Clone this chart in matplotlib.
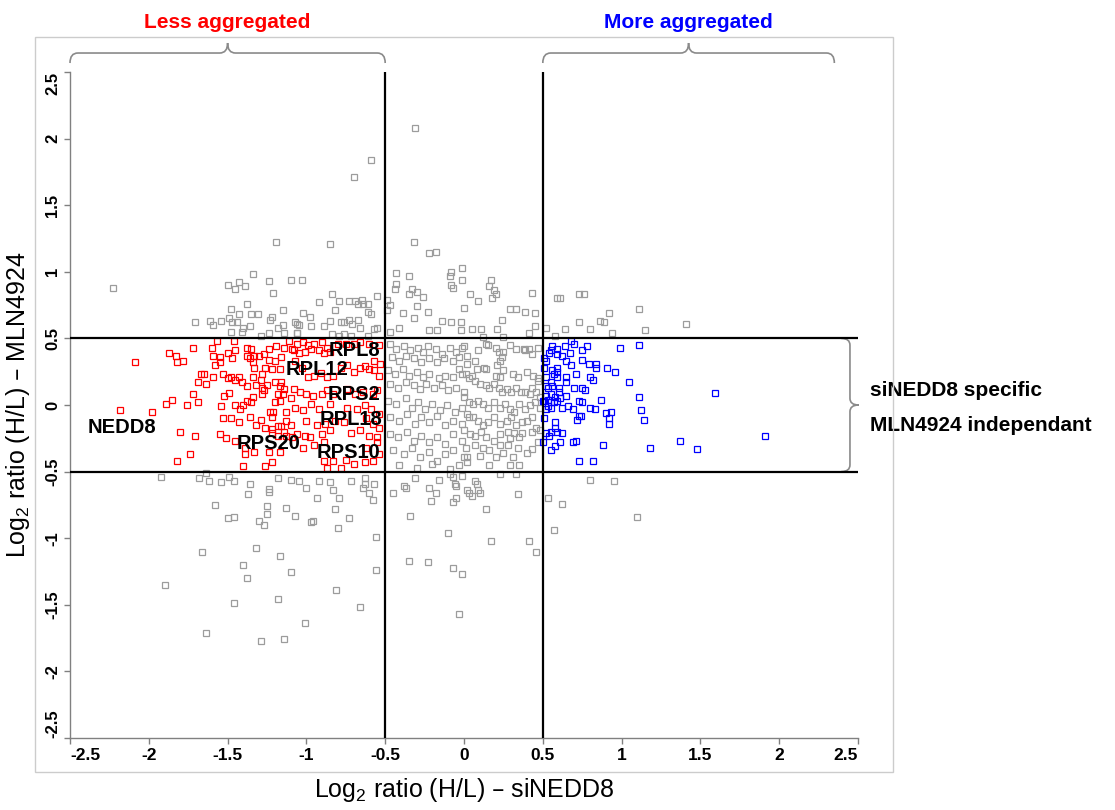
import matplotlib
matplotlib.use("Agg")
import matplotlib.pyplot as plt
import matplotlib.transforms as mtransforms
from matplotlib.path import Path
from matplotlib.patches import PathPatch, Rectangle

plt.rcParams["font.family"] = ["Liberation Sans", "DejaVu Sans"]
plt.rcParams["mathtext.default"] = "regular"

# proteins not changed (grey)
gray_pts = [
    (-0.31, 2.08), (-0.59, 1.84), (-0.70, 1.71), (-1.19, 1.22), (-0.85, 1.21), (-0.32, 1.22),
    (-0.22, 1.14), (-0.18, 1.15), (-0.08, 1.00), (-0.01, 0.94),
    (-2.23, 0.88), (-1.34, 0.98), (-1.50, 0.90), (-1.43, 0.92), (-1.45, 0.87), (-1.39, 0.89),
    (-1.24, 0.93), (-1.10, 0.94), (-1.21, 0.84), (-1.38, 0.76), (-1.48, 0.72), (-1.15, 0.71),
    (-1.43, 0.68), (-1.35, 0.68), (-1.31, 0.68), (-1.22, 0.66), (-1.23, 0.64), (-1.71, 0.62),
    (-1.61, 0.63), (-1.59, 0.60), (-1.54, 0.63), (-1.49, 0.65), (-1.47, 0.62), (-1.44, 0.62),
    (-1.40, 0.58), (-1.41, 0.55), (-1.48, 0.55), (-1.36, 0.59), (-1.29, 0.52), (-1.24, 0.54),
    (-1.18, 0.58), (-1.15, 0.60), (-1.14, 0.54), (-1.06, 0.61), (-1.06, 0.54),
    (-1.03, 0.94), (-0.84, 0.83), (-0.92, 0.77), (-0.79, 0.78), (-0.73, 0.78), (-0.69, 0.78),
    (-0.65, 0.79), (-0.64, 0.76), (-0.67, 0.76), (-0.61, 0.76), (-0.55, 0.82), (-0.82, 0.71),
    (-1.02, 0.69), (-0.98, 0.66), (-0.85, 0.63), (-0.78, 0.62), (-0.76, 0.62), (-0.73, 0.64),
    (-0.71, 0.61), (-0.67, 0.64), (-0.66, 0.58), (-0.61, 0.70), (-0.59, 0.68), (-0.55, 0.58),
    (-0.57, 0.57), (-1.07, 0.62), (-1.05, 0.60), (-0.97, 0.59), (-0.89, 0.59), (-0.84, 0.53),
    (-0.79, 0.52), (-0.76, 0.53), (-0.72, 0.52), (-0.61, 0.52), (-1.06, 0.54),
    (-0.43, 0.99), (-0.35, 0.97), (-0.43, 0.91), (-0.44, 0.87), (-0.33, 0.87), (-0.30, 0.85),
    (-0.35, 0.83), (-0.26, 0.81), (-0.30, 0.74), (-0.39, 0.69), (-0.23, 0.70), (-0.09, 0.97),
    (-0.08, 0.90), (-0.07, 0.88), (-0.01, 1.03), (-0.49, 0.79), (-0.47, 0.75), (-0.47, 0.55),
    (-0.41, 0.58), (-0.32, 0.65), (-0.22, 0.56), (-0.17, 0.56), (-0.14, 0.63), (-0.08, 0.62),
    (-0.02, 0.56), (-0.49, 0.71),
    (0.17, 0.94), (0.16, 0.89), (0.19, 0.86), (0.20, 0.83), (0.04, 0.83), (0.09, 0.78),
    (0.18, 0.80), (0.00, 0.73), (0.29, 0.72), (0.33, 0.72), (0.39, 0.70), (0.45, 0.69),
    (0.43, 0.84), (0.24, 0.64), (-0.02, 0.62), (0.05, 0.57), (0.11, 0.57), (0.21, 0.57),
    (0.41, 0.54), (0.45, 0.59), (0.12, 0.51), (0.25, 0.51),
    (0.52, 0.58), (0.59, 0.80), (0.61, 0.80), (0.73, 0.83), (0.76, 0.83), (0.64, 0.57),
    (0.73, 0.62), (0.80, 0.57), (0.86, 0.63), (0.89, 0.62), (0.92, 0.69), (0.94, 0.54),
    (0.58, 0.52), (1.11, 0.72), (1.41, 0.61), (1.15, 0.56),
    # middle box
    (0.09, 0.41), (-0.01, 0.43), (0.20, 0.43), (0.22, 0.40), (0.25, 0.40), (0.29, 0.45),
    (0.33, 0.42), (0.38, 0.42), (0.41, 0.42), (0.47, 0.43), (0.14, 0.46), (0.15, 0.45),
    (0.23, 0.33), (0.24, 0.36), (0.39, 0.41), (0.43, 0.38), (0.02, 0.37), (0.07, 0.33),
    (0.08, 0.27), (0.13, 0.28), (0.14, 0.27), (0.21, 0.30), (0.25, 0.26), (0.20, 0.22),
    (0.23, 0.21), (0.31, 0.23), (0.34, 0.21), (0.40, 0.25), (0.44, 0.22), (0.47, 0.18),
    (0.47, 0.20), (-0.03, 0.27), (0.01, 0.23), (0.05, 0.22), (0.07, 0.18), (0.10, 0.16),
    (0.14, 0.15), (0.16, 0.13), (0.19, 0.16), (0.22, 0.13), (0.24, 0.10), (0.27, 0.12),
    (0.30, 0.10), (0.33, 0.13), (0.36, 0.10), (0.39, 0.10), (0.42, 0.08), (0.43, 0.13),
    (0.46, 0.10), (0.48, 0.06), (0.00, 0.06), (0.03, 0.02), (0.06, 0.01), (0.09, 0.03),
    (0.12, 0.01), (0.15, -0.02), (0.19, 0.02), (0.23, -0.02), (0.26, 0.01), (0.29, -0.03),
    (0.32, -0.05), (0.35, 0.01), (0.39, -0.03), (0.42, 0.00), (0.45, 0.02), (0.48, -0.02),
    (0.02, -0.07), (0.06, -0.09), (0.09, -0.12), (0.12, -0.15), (0.15, -0.13), (0.19, -0.09),
    (0.23, -0.14), (0.27, -0.12), (0.30, -0.09), (0.33, -0.15), (0.37, -0.13), (0.40, -0.12),
    (0.43, -0.09), (0.46, -0.17), (0.00, -0.19), (0.04, -0.22), (0.07, -0.23), (0.11, -0.20),
    (0.14, -0.24), (0.19, -0.27), (0.23, -0.22), (0.28, -0.20), (0.32, -0.21), (0.37, -0.21),
    (0.43, -0.20), (0.48, -0.19), (0.29, -0.25), (0.35, -0.24), (0.01, -0.32), (0.07, -0.30),
    (0.12, -0.32), (0.16, -0.34), (0.23, -0.30), (0.28, -0.30), (0.34, -0.32), (0.43, -0.33),
    (0.47, -0.28), (0.02, -0.39), (0.10, -0.38), (0.20, -0.39), (0.25, -0.36), (0.31, -0.39),
    (0.40, -0.36), (0.16, -0.45), (0.29, -0.45), (0.35, -0.45), (0.02, -0.43),
    (-0.47, 0.46), (-0.43, 0.42), (-0.38, 0.44), (-0.34, 0.41), (-0.29, 0.43), (-0.26, 0.40),
    (-0.23, 0.44), (-0.18, 0.42), (-0.14, 0.38), (-0.09, 0.43), (-0.05, 0.40), (0.00, 0.44),
    (-0.46, 0.36), (-0.41, 0.33), (-0.37, 0.37), (-0.32, 0.35), (-0.27, 0.32), (-0.22, 0.35),
    (-0.17, 0.32), (-0.13, 0.35), (-0.07, 0.33), (-0.03, 0.36), (0.02, 0.31),
    (-0.48, 0.26), (-0.44, 0.23), (-0.39, 0.27), (-0.35, 0.22), (-0.30, 0.25), (-0.26, 0.21),
    (-0.22, 0.23), (-0.16, 0.20), (-0.12, 0.22), (-0.07, 0.21), (-0.01, 0.23), (0.03, 0.20),
    (-0.47, 0.16), (-0.42, 0.13), (-0.37, 0.17), (-0.32, 0.15), (-0.28, 0.12), (-0.24, 0.16),
    (-0.19, 0.13), (-0.14, 0.15), (-0.10, 0.11), (-0.05, 0.13), (0.00, 0.10),
    (-0.48, 0.03), (-0.43, 0.01), (-0.37, 0.05), (-0.33, -0.02), (-0.29, 0.02), (-0.25, -0.03),
    (-0.20, 0.01), (-0.15, -0.04), (-0.11, 0.00), (-0.06, -0.05), (-0.01, -0.02),
    (-0.47, -0.09), (-0.41, -0.12), (-0.36, -0.07), (-0.31, -0.14), (-0.27, -0.09), (-0.22, -0.13),
    (-0.17, -0.08), (-0.12, -0.15), (-0.07, -0.12), (-0.01, -0.14), (0.03, -0.09),
    (-0.47, -0.22), (-0.42, -0.24), (-0.36, -0.20), (-0.32, -0.27), (-0.27, -0.23), (-0.22, -0.28),
    (-0.17, -0.24), (-0.12, -0.29), (-0.07, -0.22), (-0.01, -0.27), (-0.45, -0.34), (-0.38, -0.37),
    (-0.33, -0.32), (-0.28, -0.39), (-0.22, -0.35), (-0.17, -0.42), (-0.12, -0.37), (-0.07, -0.34),
    (0.00, -0.39), (-0.41, -0.45), (-0.30, -0.47), (-0.20, -0.44), (-0.09, -0.48), (-0.03, -0.45),
    # below -0.5
    (-1.64, -0.51), (-1.92, -0.54), (-1.68, -0.55), (-1.62, -0.57), (-1.54, -0.58), (-1.49, -0.54),
    (-1.46, -0.57), (-1.36, -0.59), (-1.24, -0.63), (-1.18, -0.55), (-1.10, -0.56), (-1.05, -0.57),
    (-0.92, -0.57), (-0.85, -0.58), (-0.72, -0.57), (-0.63, -0.55), (-0.64, -0.62), (-0.63, -0.59),
    (-0.57, -0.59), (-0.60, -0.66), (-1.00, -0.62), (-0.83, -0.64), (-0.93, -0.70), (-0.79, -0.70),
    (-0.58, -0.71), (-0.82, -0.78), (-0.73, -0.85), (-0.80, -0.92), (-0.56, -0.99), (-0.56, -1.24),
    (-0.81, -1.39), (-0.66, -1.52), (-1.01, -1.64), (-1.37, -0.67), (-1.24, -0.65), (-1.58, -0.75),
    (-1.25, -0.76), (-1.13, -0.77), (-1.25, -0.82), (-1.07, -0.83), (-1.50, -0.85), (-1.46, -0.84),
    (-1.30, -0.87), (-1.27, -0.90), (-0.97, -0.88), (-0.96, -0.87), (-1.32, -1.07), (-1.17, -1.13),
    (-1.66, -1.10), (-1.40, -1.20), (-1.10, -1.25), (-1.38, -1.30), (-1.90, -1.35), (-1.46, -1.49),
    (-1.18, -1.46), (-1.64, -1.71), (-1.29, -1.77), (-1.14, -1.76),
    (-0.45, -0.66), (-0.38, -0.61), (-0.37, -0.62), (-0.31, -0.55), (-0.22, -0.62), (-0.18, -0.66),
    (-0.21, -0.72), (-0.16, -0.56), (-0.09, -0.52), (-0.07, -0.54), (-0.06, -0.59), (-0.05, -0.61),
    (-0.01, -0.53), (-0.05, -0.70), (-0.07, -0.73), (0.02, -0.64), (0.03, -0.66), (0.05, -0.68),
    (0.07, -0.57), (0.08, -0.59), (0.09, -0.64), (0.10, -0.66), (0.23, -0.52), (0.33, -0.52),
    (0.34, -0.67), (0.14, -0.78), (-0.34, -0.83), (-0.10, -0.96), (0.17, -1.02), (0.41, -1.02),
    (0.46, -1.10), (-0.35, -1.17), (-0.23, -1.18), (-0.07, -1.22), (-0.01, -1.27), (-0.03, -1.57),
    (0.80, -0.56), (0.95, -0.57), (0.53, -0.70), (0.62, -0.74), (1.10, -0.84), (0.57, -0.94),
]

# less aggregated after siNEDD8 (red)
red_pts = [
    (-2.09, 0.32), (-1.87, 0.39), (-1.83, 0.37), (-1.82, 0.32), (-1.78, 0.33), (-1.72, 0.43),
    (-1.60, 0.43), (-1.57, 0.48), (-1.46, 0.48), (-1.59, 0.37), (-1.55, 0.36), (-1.50, 0.39),
    (-1.45, 0.41), (-1.47, 0.35), (-1.58, 0.30), (-1.55, 0.32), (-1.38, 0.43), (-1.35, 0.42),
    (-1.38, 0.37), (-1.36, 0.35), (-1.33, 0.37), (-1.30, 0.37), (-1.27, 0.38), (-1.24, 0.42),
    (-1.19, 0.44), (-1.14, 0.43), (-1.08, 0.41), (-1.11, 0.48), (-1.24, 0.34), (-1.20, 0.33),
    (-1.16, 0.36), (-1.34, 0.32), (-1.33, 0.28), (-1.34, 0.21), (-1.26, 0.28), (-1.22, 0.27),
    (-1.17, 0.27), (-1.28, 0.23), (-1.29, 0.19), (-1.67, 0.23), (-1.65, 0.23), (-1.69, 0.17),
    (-1.64, 0.16), (-1.59, 0.21), (-1.53, 0.23), (-1.50, 0.20), (-1.48, 0.21), (-1.45, 0.19),
    (-1.43, 0.21), (-1.41, 0.17), (-1.38, 0.14), (-1.32, 0.15), (-1.28, 0.13), (-1.25, 0.15),
    (-1.20, 0.17), (-1.17, 0.14), (-1.16, 0.17), (-1.14, 0.12), (-1.28, 0.08), (-1.27, 0.11),
    (-1.34, 0.06), (-1.18, 0.08), (-1.15, 0.08), (-1.10, 0.05), (-1.49, 0.09), (-1.52, 0.07),
    (-1.72, 0.08), (-1.85, 0.04), (-1.89, 0.01), (-1.76, 0.00), (-1.69, 0.02), (-1.54, -0.01),
    (-1.45, 0.00), (-1.40, 0.00), (-1.38, 0.03), (-1.35, 0.02), (-1.42, -0.03), (-1.20, 0.02),
    (-1.17, 0.03), (-1.13, -0.05), (-1.23, -0.05), (-1.21, -0.05), (-2.18, -0.04), (-1.98, -0.05),
    (-1.53, -0.10), (-1.48, -0.10), (-1.43, -0.13), (-1.36, -0.09), (-1.32, -0.15), (-1.29, -0.11),
    (-1.22, -0.09), (-1.13, -0.12), (-1.10, -0.15), (-1.26, -0.17), (-1.22, -0.18), (-1.18, -0.16),
    (-1.16, -0.16), (-1.14, -0.20), (-1.22, -0.21), (-1.80, -0.20), (-1.71, -0.23), (-1.55, -0.22),
    (-1.51, -0.25), (-1.45, -0.27), (-1.18, -0.23), (-1.13, -0.23), (-1.09, -0.24), (-1.39, -0.32),
    (-1.33, -0.35), (-1.24, -0.35), (-1.17, -0.35), (-1.74, -0.37), (-1.82, -0.42), (-1.39, -0.37),
    (-1.40, -0.46), (-1.26, -0.46), (-1.22, -0.43),
    (-1.09, 0.42), (-1.06, 0.46), (-1.02, 0.47), (-0.99, 0.45), (-0.95, 0.46), (-0.90, 0.47),
    (-0.87, 0.43), (-1.05, 0.39), (-1.01, 0.40), (-0.97, 0.42), (-0.92, 0.41), (-0.89, 0.39),
    (-0.85, 0.40), (-0.80, 0.46), (-0.75, 0.46), (-0.70, 0.46), (-0.66, 0.47), (-0.60, 0.46),
    (-0.54, 0.45), (-1.07, 0.33), (-1.03, 0.28), (-0.99, 0.21), (-0.95, 0.22), (-0.91, 0.24),
    (-0.87, 0.21), (-0.83, 0.22), (-0.78, 0.28), (-0.74, 0.30), (-0.70, 0.25), (-0.66, 0.28),
    (-0.63, 0.29), (-0.60, 0.27), (-0.57, 0.26), (-0.54, 0.22), (-0.57, 0.33), (-0.53, 0.31),
    (-1.08, 0.12), (-1.04, 0.10), (-1.00, 0.08), (-0.96, 0.07), (-0.90, 0.08), (-0.87, 0.11),
    (-0.83, 0.08), (-0.74, 0.12), (-0.69, 0.08), (-0.64, 0.10), (-0.58, 0.08), (-0.55, 0.11),
    (-1.07, -0.02), (-1.02, -0.04), (-0.97, 0.01), (-0.92, -0.03), (-0.85, 0.01), (-0.74, -0.02),
    (-0.68, -0.03), (-0.63, 0.00), (-0.59, -0.03), (-0.54, -0.07), (-1.00, -0.12), (-0.93, -0.15),
    (-0.88, -0.14), (-0.82, -0.12), (-0.76, -0.13), (-0.62, -0.10), (-0.58, -0.14), (-0.54, -0.17),
    (-1.06, -0.22), (-1.01, -0.23), (-0.98, -0.24), (-0.90, -0.22), (-0.85, -0.19), (-0.72, -0.21),
    (-0.66, -0.19), (-0.60, -0.23), (-0.55, -0.24), (-1.02, -0.32), (-0.95, -0.30), (-0.89, -0.28),
    (-0.62, -0.32), (-0.55, -0.28), (-0.54, -0.37), (-0.89, -0.42), (-0.83, -0.42), (-0.75, -0.41),
    (-0.70, -0.44), (-0.63, -0.43), (-0.58, -0.42), (-0.87, -0.47), (-0.78, -0.47),
]

# more aggregated after siNEDD8 (blue)
blue_pts = [
    (1.11, 0.45), (0.99, 0.43), (1.05, 0.17), (1.11, 0.06), (1.12, -0.04), (1.14, -0.11),
    (1.59, 0.09), (1.37, -0.27), (1.18, -0.32), (1.48, -0.33), (1.91, -0.23),
    (0.68, 0.48), (0.70, 0.46), (0.78, 0.44), (0.75, 0.41), (0.64, 0.44), (0.59, 0.42),
    (0.56, 0.44), (0.54, 0.39), (0.55, 0.41), (0.59, 0.38), (0.62, 0.37), (0.67, 0.39),
    (0.65, 0.33), (0.68, 0.30), (0.75, 0.34), (0.79, 0.31), (0.84, 0.31), (0.84, 0.28),
    (0.91, 0.28), (0.96, 0.25), (0.51, 0.35), (0.52, 0.33), (0.56, 0.26), (0.59, 0.28),
    (0.59, 0.25), (0.57, 0.23), (0.52, 0.21), (0.59, 0.21), (0.65, 0.21), (0.71, 0.23),
    (0.80, 0.21), (0.82, 0.19), (0.65, 0.17), (0.55, 0.17), (0.53, 0.13), (0.56, 0.14),
    (0.60, 0.13), (0.60, 0.10), (0.70, 0.13), (0.75, 0.13), (0.77, 0.11), (0.55, 0.08),
    (0.58, 0.06), (0.52, 0.07), (0.65, 0.07), (0.61, 0.05), (0.51, 0.03), (0.53, 0.04),
    (0.55, 0.02), (0.50, 0.03), (0.57, 0.02), (0.59, 0.03), (0.53, -0.01), (0.55, -0.02),
    (0.52, -0.03), (0.62, -0.02), (0.66, -0.01), (0.69, -0.03), (0.73, 0.03), (0.75, 0.02),
    (0.80, -0.02), (0.83, -0.03), (0.87, 0.04), (0.90, -0.06), (0.93, -0.05), (0.92, -0.10),
    (0.92, -0.14), (0.73, -0.08), (0.74, -0.08), (0.72, -0.11), (0.58, -0.13), (0.58, -0.17),
    (0.59, -0.20), (0.62, -0.21), (0.52, -0.21), (0.55, -0.20), (0.54, -0.23), (0.50, -0.28),
    (0.61, -0.28), (0.69, -0.28), (0.71, -0.27), (0.58, -0.31), (0.55, -0.34), (0.88, -0.30),
    (0.73, -0.42), (0.82, -0.42), (0.51, 0.28), (0.52, 0.14), (0.51, -0.10),
]

# labelled proteins
label_names = ["NEDD8", "RPL8", "RPL12", "RPS2", "RPL18", "RPS20", "RPS10"]
label_x = [-2.17, -0.695, -0.935, -0.70, -0.715, -1.24, -0.735]
label_y = [-0.17, 0.41, 0.265, 0.08, -0.11, -0.29, -0.36]

ticks = [-2.5, -2, -1.5, -1, -0.5, 0, 0.5, 1, 1.5, 2, 2.5]
tick_labels = ["-2.5", "-2", "-1.5", "-1", "-0.5", "0", "0.5", "1", "1.5", "2", "2.5"]

W, H = 1115, 810
fig = plt.figure(figsize=(W / 100, H / 100), dpi=100)
ax = fig.add_axes([70 / W, 1 - 738 / H, 788 / W, 666 / H])

# outer light grey frame
fig.patches.append(Rectangle((35 / W, 1 - 772 / H), 858 / W, 735 / H, transform=fig.transFigure,
                             fill=False, edgecolor="#cccccc", lw=1.0))


def draw_points(pts, color):
    xs = [p[0] for p in pts]
    ys = [p[1] for p in pts]
    ax.plot(xs, ys, linestyle="", marker="s", ms=4.3, mfc="none", mec=color, mew=0.9)


draw_points(gray_pts, "#9c9c9c")
draw_points(red_pts, "#ff0000")
draw_points(blue_pts, "#0000ff")

for v in [-0.5, 0.5]:
    ax.axvline(v, color="black", lw=1.6, zorder=4)
    ax.axhline(v, color="black", lw=1.6, zorder=4)

for name, x, y in zip(label_names, label_x, label_y):
    ax.text(x, y, name, ha="center", va="center", fontsize=14.5, fontweight="bold", zorder=5)

ax.set_xlim(-2.5, 2.5)
ax.set_ylim(-2.5, 2.5)
ax.set_xticks(ticks)
ax.set_xticklabels(tick_labels)
ax.set_yticks(ticks)
ax.set_yticklabels(tick_labels)
for s in ["top", "right"]:
    ax.spines[s].set_visible(False)
for s in ["left", "bottom"]:
    ax.spines[s].set_color("#808080")
    ax.spines[s].set_linewidth(1.0)
ax.tick_params(axis="both", direction="out", length=4, width=1, color="#808080")
ax.tick_params(axis="x", labelsize=12.5, pad=3)
ax.tick_params(axis="y", labelsize=12, pad=3, labelrotation=90)
for lab in ax.get_xticklabels() + ax.get_yticklabels():
    lab.set_fontweight("bold")
xl = ax.get_xticklabels()
xl[0].set_ha("left")
xl[-1].set_ha("right")
yl = ax.get_yticklabels()
for lab in yl:
    lab.set_va("center")
yl[0].set_va("bottom")
yl[-1].set_va("top")

fig.text(464 / W, 1 - 790 / H, "Log$_2$ ratio (H/L) \u2013 siNEDD8", ha="center", va="center", fontsize=18)
fig.text(18 / W, 1 - 405 / H, "Log$_2$ ratio (H/L) \u2013 MLN4924", ha="center", va="center",
         fontsize=18, rotation=90)

# braces
brace_color = "#8a8a8a"


def hbrace(x0, x1, y_line, h, r):
    xm = (x0 + x1) / 2
    verts = [(x0, y_line - h), (x0, y_line), (x0 + r, y_line),
             (xm - r, y_line), (xm, y_line), (xm, y_line + h),
             (xm, y_line), (xm + r, y_line),
             (x1 - r, y_line), (x1, y_line), (x1, y_line - h)]
    codes = [Path.MOVETO, Path.CURVE3, Path.CURVE3, Path.LINETO, Path.CURVE3, Path.CURVE3,
             Path.CURVE3, Path.CURVE3, Path.LINETO, Path.CURVE3, Path.CURVE3]
    trans = mtransforms.blended_transform_factory(ax.transData, ax.transAxes)
    ax.add_patch(PathPatch(Path(verts, codes), transform=trans, fill=False, edgecolor=brace_color,
                           lw=1.2, clip_on=False))


def vbrace(y0, y1, x_line, w, r):
    ym = (y0 + y1) / 2
    verts = [(x_line - w, y0), (x_line, y0), (x_line, y0 - r),
             (x_line, ym + r), (x_line, ym), (x_line + w, ym),
             (x_line, ym), (x_line, ym - r),
             (x_line, y1 + r), (x_line, y1), (x_line - w, y1)]
    codes = [Path.MOVETO, Path.CURVE3, Path.CURVE3, Path.LINETO, Path.CURVE3, Path.CURVE3,
             Path.CURVE3, Path.CURVE3, Path.LINETO, Path.CURVE3, Path.CURVE3]
    trans = mtransforms.blended_transform_factory(ax.transAxes, ax.transData)
    ax.add_patch(PathPatch(Path(verts, codes), transform=trans, fill=False, edgecolor=brace_color,
                           lw=1.2, clip_on=False))


hbrace(-2.5, -0.5, 1.0285, 0.015, 0.05)
hbrace(0.5, 2.35, 1.0285, 0.015, 0.05)
vbrace(0.5, -0.5, 0.9898, 0.011, 0.05)

top = mtransforms.blended_transform_factory(ax.transData, ax.transAxes)
ax.text(-1.5, 1.075, "Less aggregated", transform=top, ha="center", va="center", fontsize=15,
        fontweight="bold", color="#ff0000")
ax.text(1.425, 1.075, "More aggregated", transform=top, ha="center", va="center", fontsize=15,
        fontweight="bold", color="#0000ff")

side = mtransforms.blended_transform_factory(ax.transAxes, ax.transData)
ax.text(1.015, 0.11, "siNEDD8 specific", transform=side, ha="left", va="center", fontsize=15,
        fontweight="bold")
ax.text(1.015, -0.155, "MLN4924 independant", transform=side, ha="left", va="center", fontsize=15,
        fontweight="bold")

fig.savefig("out.png", dpi=100)
